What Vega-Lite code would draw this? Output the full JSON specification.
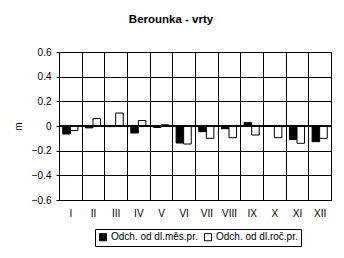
{
  "$schema": "https://vega.github.io/schema/vega-lite/v6.json",
  "width": 272,
  "height": 148,
  "autosize": "none",
  "padding": {"left": 59, "top": 52, "right": 13, "bottom": 58},
  "background": "white",
  "title": {"text": "Berounka - vrty", "font": "Liberation Sans", "fontSize": 11.5, "fontWeight": "bold", "color": "black", "anchor": "middle", "dx": -24, "offset": 22},
  "data": {"values": [
    {"month": "I", "series": "Odch. od dl.měs.pr.", "value": -0.065},
    {"month": "I", "series": "Odch. od dl.roč.pr.", "value": -0.037},
    {"month": "II", "series": "Odch. od dl.měs.pr.", "value": -0.015},
    {"month": "II", "series": "Odch. od dl.roč.pr.", "value": 0.06},
    {"month": "III", "series": "Odch. od dl.měs.pr.", "value": -0.005},
    {"month": "III", "series": "Odch. od dl.roč.pr.", "value": 0.105},
    {"month": "IV", "series": "Odch. od dl.měs.pr.", "value": -0.057},
    {"month": "IV", "series": "Odch. od dl.roč.pr.", "value": 0.044},
    {"month": "V", "series": "Odch. od dl.měs.pr.", "value": -0.012},
    {"month": "V", "series": "Odch. od dl.roč.pr.", "value": 0.01},
    {"month": "VI", "series": "Odch. od dl.měs.pr.", "value": -0.138},
    {"month": "VI", "series": "Odch. od dl.roč.pr.", "value": -0.146},
    {"month": "VII", "series": "Odch. od dl.měs.pr.", "value": -0.046},
    {"month": "VII", "series": "Odch. od dl.roč.pr.", "value": -0.1},
    {"month": "VIII", "series": "Odch. od dl.měs.pr.", "value": -0.022},
    {"month": "VIII", "series": "Odch. od dl.roč.pr.", "value": -0.095},
    {"month": "IX", "series": "Odch. od dl.měs.pr.", "value": 0.027},
    {"month": "IX", "series": "Odch. od dl.roč.pr.", "value": -0.073},
    {"month": "X", "series": "Odch. od dl.měs.pr.", "value": 0.0},
    {"month": "X", "series": "Odch. od dl.roč.pr.", "value": -0.095},
    {"month": "XI", "series": "Odch. od dl.měs.pr.", "value": -0.11},
    {"month": "XI", "series": "Odch. od dl.roč.pr.", "value": -0.14},
    {"month": "XII", "series": "Odch. od dl.měs.pr.", "value": -0.127},
    {"month": "XII", "series": "Odch. od dl.roč.pr.", "value": -0.1}
  ]},
  "layer": [
    {
      "mark": {"type": "bar", "stroke": "black", "strokeWidth": 1},
      "encoding": {
        "x": {"field": "month", "type": "nominal", "sort": null,
          "scale": {"paddingInner": 0, "paddingOuter": 0},
          "axis": {"title": null, "labelAngle": 0, "grid": true, "gridColor": "black", "gridOpacity": 1, "tickBand": "extent", "ticks": false, "domain": false, "labelPadding": 8, "labelFont": "Liberation Sans", "labelFontSize": 10, "labelColor": "black"}},
        "xOffset": {"field": "series", "type": "nominal", "sort": null, "scale": {"paddingOuter": 0.5, "paddingInner": 0}},
        "y": {"field": "value", "type": "quantitative",
          "scale": {"domain": [-0.6, 0.6], "nice": false, "zero": false},
          "axis": {"title": "m", "titleFont": "Liberation Sans", "titleFontWeight": "normal", "titleFontSize": 10, "titleColor": "black", "titleX": -36, "titleY": 74, "values": [-0.6, -0.4, -0.2, 0, 0.2, 0.4, 0.6], "tickCount": 7, "labelOverlap": false, "labelExpr": "datum.value == 0 ? '0' : format(datum.value, '.1f')", "grid": true, "gridColor": "black", "gridOpacity": 1, "domain": false, "tickColor": "black", "tickSize": 3, "labelPadding": 5, "labelFont": "Liberation Sans", "labelFontSize": 10, "labelColor": "black"}},
        "color": {"field": "series", "type": "nominal", "sort": null,
          "scale": {"domain": ["Odch. od dl.měs.pr.", "Odch. od dl.roč.pr."], "range": ["black", "white"]},
          "legend": {"title": null, "orient": "none", "legendX": 36, "legendY": 177, "direction": "horizontal", "symbolType": "square", "symbolSize": 50, "symbolStrokeColor": "black", "symbolStrokeWidth": 1, "symbolOpacity": 1, "labelFont": "Liberation Sans", "labelFontSize": 10, "labelColor": "black", "strokeColor": "black", "fillColor": "white", "padding": 3, "columnPadding": 4, "labelOffset": 3}}
      }
    },
    {
      "mark": {"type": "rule", "color": "black", "strokeWidth": 2},
      "encoding": {"y": {"datum": 0}}
    }
  ],
  "config": {
    "view": {"stroke": "#808080", "strokeWidth": 1}
  }
}
